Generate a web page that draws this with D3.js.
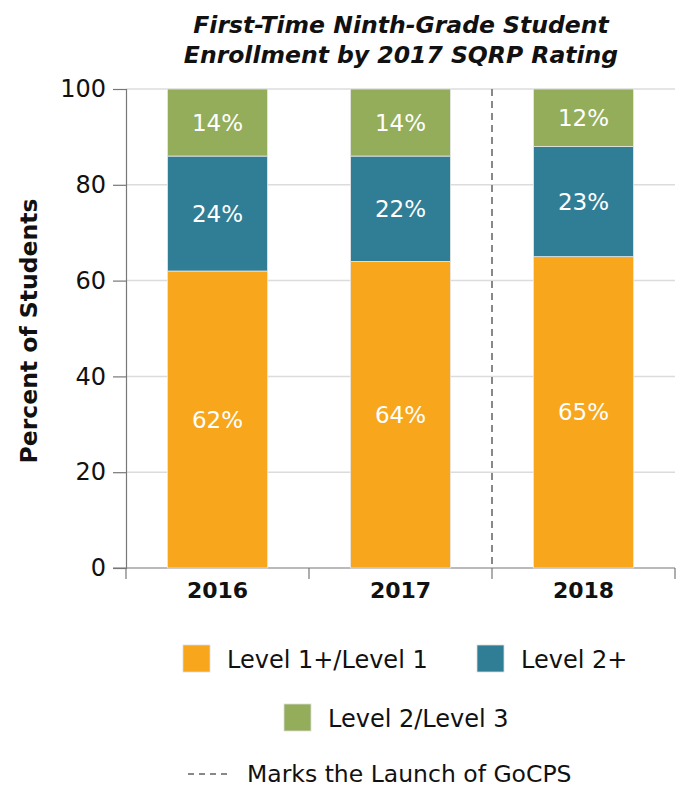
<!DOCTYPE html>
<html lang="en">
<head>
    <meta charset="utf-8">
    <title>SQRP enrollment</title>
    <script src="https://d3js.org/d3.v7.min.js" charset="utf-8"></script>
    <style type="text/css">
        body {
            margin: 0;
            background: #fff;
            font-family: 'DejaVu Sans', sans-serif;
        }
    </style>
</head>
<body>
    <script type="text/javascript">
        // data
        var years = ["2016", "2017", "2018"];
        var levels = ["Level 1+/Level 1", "Level 2+", "Level 2/Level 3"];
        var level1 = [62, 64, 65];
        var level2plus = [24, 22, 23];
        var level23 = [14, 14, 12];
        var yTicks = [0, 20, 40, 60, 80, 100];
        var colors = ["#f8a61c", "#307d96", "#93ad5a"];

        var width = 680;
        var height = 789;
        var plotL = 126, plotR = 675, plotT = 89, plotB = 568;
        var font = "'DejaVu Sans', sans-serif";

        var svg = d3.select("body")
                    .append("svg")
                    .attr("width", width)
                    .attr("height", height)
                    .attr("font-family", font);

        var rows = years.map(function (y, i) {
            return { year: y, l1: level1[i], l2: level2plus[i], l3: level23[i] };
        });
        var stack = d3.stack().keys(["l1", "l2", "l3"]);
        var series = stack(rows);

        var x = d3.scaleBand().domain(years).range([plotL, plotR]);
        var y = d3.scaleLinear().domain([0, 100]).range([plotB, plotT]);
        var barW = x.bandwidth() * 0.546;

        // title
        var title = svg.append("text")
            .attr("text-anchor", "middle")
            .attr("font-style", "italic")
            .attr("font-weight", "bold")
            .attr("font-size", "23.5px")
            .attr("fill", "#111");
        title.append("tspan").attr("x", 401).attr("y", 33).text("First-Time Ninth-Grade Student");
        title.append("tspan").attr("x", 401).attr("y", 63).text("Enrollment by 2017 SQRP Rating");

        // gridlines
        svg.append("g")
            .selectAll("line")
            .data(yTicks.slice(1))
            .enter()
            .append("line")
            .attr("x1", plotL)
            .attr("x2", plotR)
            .attr("y1", function (d) { return y(d); })
            .attr("y2", function (d) { return y(d); })
            .attr("stroke", "#dcdcdc")
            .attr("stroke-width", 1.5);

        // y axis
        var yAxis = svg.append("g")
            .attr("transform", "translate(" + plotL + ",0)")
            .call(d3.axisLeft(y).tickValues(yTicks).tickSize(13).tickPadding(7));
        yAxis.select(".domain").attr("stroke", "#777").attr("stroke-width", 1.2);
        yAxis.selectAll(".tick line").attr("stroke", "#777").attr("stroke-width", 1.2);
        yAxis.selectAll("text")
            .attr("font-family", font)
            .attr("font-size", "24px")
            .attr("fill", "#111");

        // x axis
        var xAxis = svg.append("g")
            .attr("transform", "translate(0," + plotB + ")")
            .call(d3.axisBottom(x).tickSize(0).tickPadding(14));
        xAxis.select(".domain").attr("stroke", "#777").attr("stroke-width", 1.2)
            .attr("d", "M" + (plotL - 13) + ",0H" + plotR);
        xAxis.selectAll("text")
            .attr("font-family", font)
            .attr("font-size", "22px")
            .attr("font-weight", "bold")
            .attr("fill", "#111");

        // band separators below axis
        var seps = [x("2016"), x("2017"), x("2018"), x("2018") + x.bandwidth()];
        svg.append("g")
            .selectAll("line")
            .data(seps)
            .enter()
            .append("line")
            .attr("x1", function (d) { return d; })
            .attr("x2", function (d) { return d; })
            .attr("y1", plotB)
            .attr("y2", plotB + 11)
            .attr("stroke", "#777")
            .attr("stroke-width", 1.2);

        // GoCPS launch marker
        svg.append("line")
            .attr("x1", x("2018"))
            .attr("x2", x("2018"))
            .attr("y1", plotT)
            .attr("y2", plotB)
            .attr("stroke", "#888")
            .attr("stroke-width", 2)
            .attr("stroke-dasharray", "7,5");

        // stacked bars
        var groups = svg.append("g")
            .selectAll("g")
            .data(series)
            .enter()
            .append("g")
            .attr("fill", function (d, i) { return colors[i]; });

        groups.selectAll("rect")
            .data(function (d) { return d; })
            .enter()
            .append("rect")
            .attr("x", function (d) { return x(d.data.year) + (x.bandwidth() - barW) / 2; })
            .attr("y", function (d) { return y(d[1]); })
            .attr("width", barW)
            .attr("height", function (d) { return y(d[0]) - y(d[1]); })
            .attr("stroke", "#e6e6e6")
            .attr("stroke-width", 0.8);

        groups.selectAll("text")
            .data(function (d) { return d; })
            .enter()
            .append("text")
            .attr("x", function (d) { return x(d.data.year) + x.bandwidth() / 2; })
            .attr("y", function (d) { return y((d[0] + d[1]) / 2) + 8; })
            .attr("text-anchor", "middle")
            .attr("font-size", "23px")
            .attr("fill", "#fff")
            .text(function (d) { return (d[1] - d[0]) + "%"; });

        // y axis title
        svg.append("text")
            .attr("transform", "translate(37,331) rotate(-90)")
            .attr("text-anchor", "middle")
            .attr("font-size", "23.5px")
            .attr("font-weight", "bold")
            .attr("fill", "#111")
            .text("Percent of Students");

        // legend
        var legendItems = [
            { x: 183, y: 645, i: 0 },
            { x: 477, y: 645, i: 1 },
            { x: 284, y: 704, i: 2 }
        ];
        var legend = svg.append("g")
            .selectAll("g")
            .data(legendItems)
            .enter()
            .append("g")
            .attr("transform", function (d) { return "translate(" + d.x + "," + d.y + ")"; });
        legend.append("rect")
            .attr("width", 27)
            .attr("height", 27)
            .attr("fill", function (d) { return colors[d.i]; })
            .attr("stroke", "#ddd")
            .attr("stroke-width", 0.8);
        legend.append("text")
            .attr("x", 44)
            .attr("y", 23)
            .attr("font-size", "24px")
            .attr("fill", "#111")
            .text(function (d) { return levels[d.i]; });

        svg.append("line")
            .attr("x1", 188)
            .attr("x2", 230)
            .attr("y1", 774)
            .attr("y2", 774)
            .attr("stroke", "#888")
            .attr("stroke-width", 2)
            .attr("stroke-dasharray", "6,5");
        svg.append("text")
            .attr("x", 247)
            .attr("y", 782)
            .attr("font-size", "23.5px")
            .attr("fill", "#111")
            .text("Marks the Launch of GoCPS");
    </script>
</body>
</html>
